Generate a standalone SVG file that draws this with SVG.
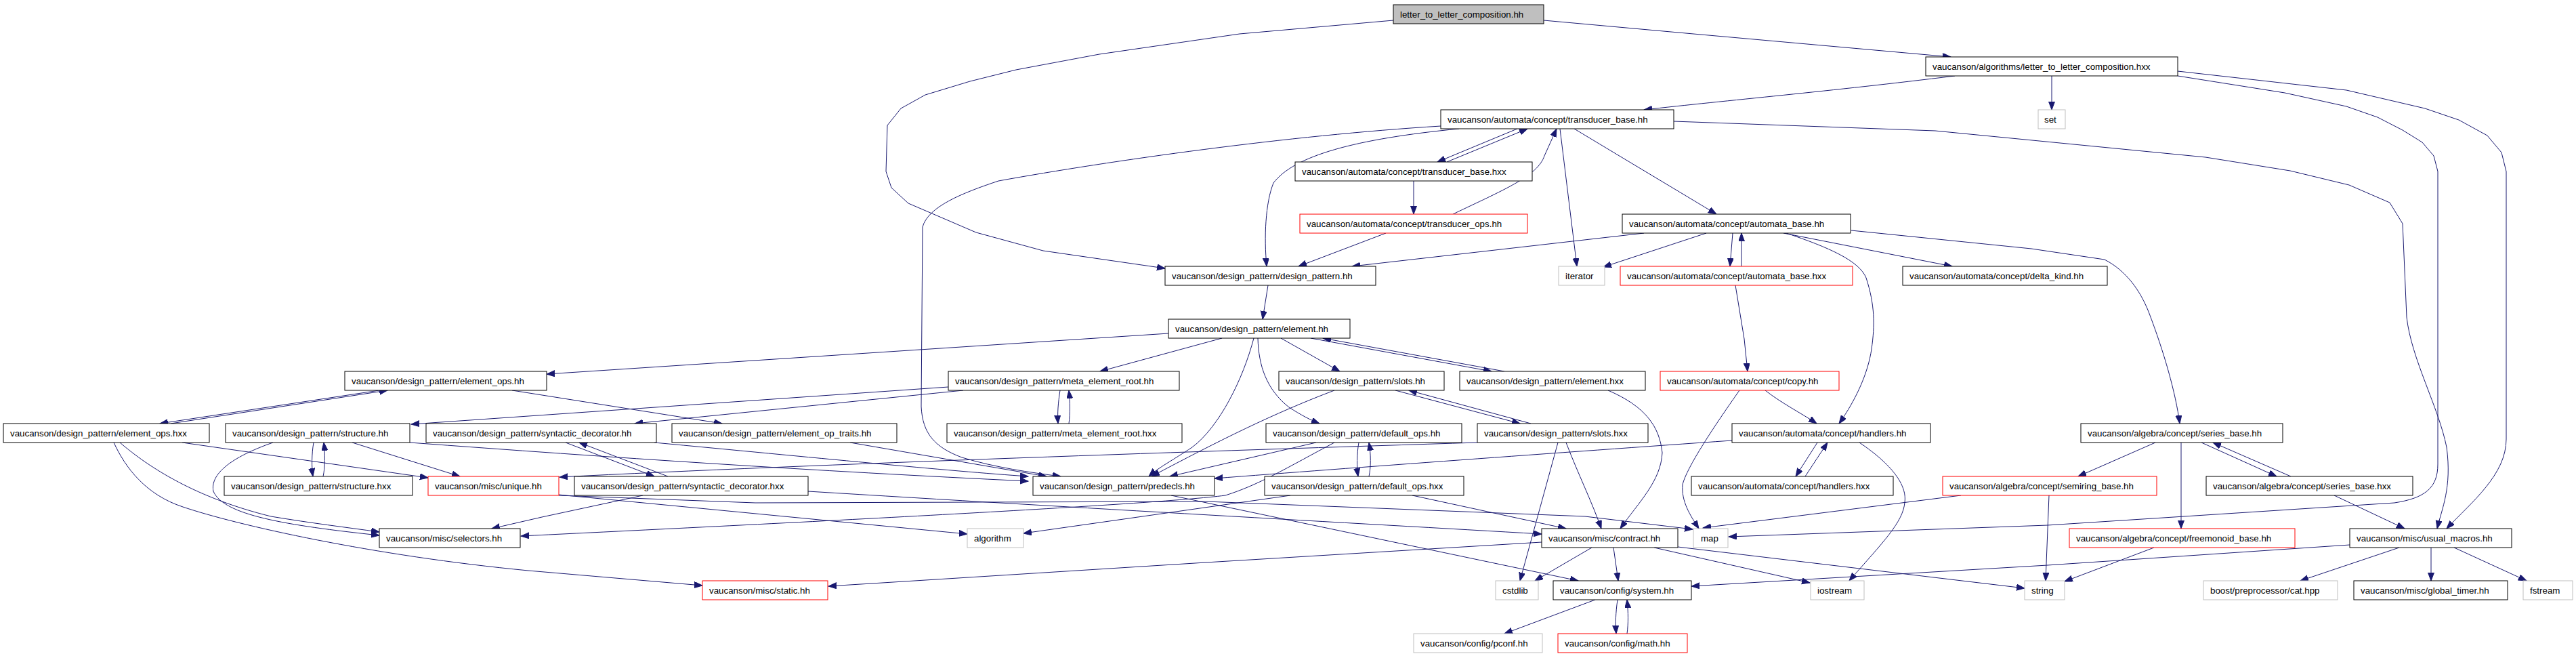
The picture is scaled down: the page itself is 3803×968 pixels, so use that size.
<svg xmlns="http://www.w3.org/2000/svg" width="3803" height="968" viewBox="0 0 3803 968">
<style>
.node rect{fill:#ffffff;stroke:#000000;stroke-width:1}
.node.red rect{stroke:#ff0000}
.node.sys rect{stroke:#bfbfbf}
.node.top rect{fill:#bfbfbf}
.node text{font-family:"Liberation Sans",Arial,Helvetica,sans-serif;font-size:13.33px;fill:#000000}
#edges path{fill:none;stroke:#191970;stroke-width:1;marker-end:url(#arr)}
</style>
<defs>
<marker id="arr" markerUnits="userSpaceOnUse" markerWidth="13" markerHeight="10" refX="12" refY="4.5" orient="auto">
<path d="M0,0 L12,4.5 L0,9 z" fill="#191970" stroke="#191970" stroke-width="1"/>
</marker>
</defs>
<rect x="0" y="0" width="3803" height="968" fill="#ffffff"/>
<g id="edges">
<path d="M2057,30 L1830,50 L1623,80 L1500,103 L1432,120 L1366,140 L1330,160 L1310,185 L1308,253 L1316,277 L1341,300 L1441,343 L1540,370 L1720,396"/>
<path d="M2279,30 L2500,50 L2880,84"/>
<path d="M2886,112 C2700,135 2550,148 2427,162"/>
<path d="M3029,112 L3029,162"/>
<path d="M3215,105 L3464,133 L3580,160 L3630,177 L3672,200 L3693,225 L3700,253 L3700,648 C3700,700 3650,740 3612,780"/>
<path d="M3215,112 L3373,137 L3464,157 L3510,173 L3547,192 L3576,210 L3593,230 L3599,253 L3599,685 C3599,720 3580,735 3535,742 L3023,775 L2552,792"/>
<path d="M2240,190 L2122,239"/>
<path d="M2136,239 L2255,190"/>
<path d="M2087,267 L2087,316"/>
<path d="M2145,316 C2220,280 2270,260 2280,230 L2298,190"/>
<path d="M2046,344 L1917,393"/>
<path d="M2154,190 C2000,205 1910,230 1880,270 C1868,300 1866,350 1870,393"/>
<path d="M2303,190 L2328,393"/>
<path d="M2324,190 L2534,316"/>
<path d="M2471,179 L2857,193 L3256,232 L3381,252 L3468,273 L3528,299 L3547,330 L3553,468 C3560,530 3600,600 3612,660 C3620,720 3605,750 3598,780"/>
<path d="M2127,186 C1900,200 1640,237 1474,267 C1420,285 1370,305 1362,335 L1360,600 C1362,640 1380,660 1420,675 C1470,690 1520,697 1566,703"/>
<path d="M2427,344 L1996,393"/>
<path d="M2519,344 L2367,394"/>
<path d="M2558,344 L2554,393"/>
<path d="M2571,393 L2571,344"/>
<path d="M2633,344 L2882,393"/>
<path d="M2637,344 C2700,365 2745,385 2755,410 C2768,450 2768,480 2763,515 C2758,550 2740,590 2715,625"/>
<path d="M2733,340 L2999,367 L3107,383 C3140,400 3160,430 3172,460 C3195,520 3212,580 3218,625"/>
<path d="M2562,421 L2575,500 L2580,548"/>
<path d="M2606,576 C2630,595 2660,610 2682,625"/>
<path d="M2568,576 C2530,630 2490,690 2484,715 C2482,740 2495,760 2508,780"/>
<path d="M2683,653 L2651,703"/>
<path d="M2665,703 L2698,653"/>
<path d="M2745,653 C2800,690 2815,720 2812,741 C2810,770 2780,800 2730,857"/>
<path d="M2557,650 C2300,668 2000,690 1793,706"/>
<path d="M3182,653 L3068,703"/>
<path d="M3220,653 L3220,780"/>
<path d="M3250,653 L3361,703"/>
<path d="M3382,703 L3267,653"/>
<path d="M3446,731 L3550,780"/>
<path d="M3025,731 L3020,857"/>
<path d="M2895,731 L2514,779"/>
<path d="M1872,421 L1864,471"/>
<path d="M1725,492 L807,552"/>
<path d="M1804,499 L1624,548"/>
<path d="M1851,499 C1835,560 1800,630 1760,660 C1730,680 1710,690 1696,703"/>
<path d="M1857,499 C1858,540 1870,575 1903,601 C1920,612 1935,620 1948,625"/>
<path d="M1891,499 L1978,548"/>
<path d="M1935,499 L2202,548"/>
<path d="M2221,548 L1953,499"/>
<path d="M2374,576 C2430,600 2450,630 2454,668 C2452,710 2420,740 2392,780"/>
<path d="M560,576 L236,625"/>
<path d="M252,625 L572,576"/>
<path d="M756,576 L1066,625"/>
<path d="M269,653 L632,705"/>
<path d="M177,653 C220,690 290,735 400,762 C460,772 510,778 560,785"/>
<path d="M168,653 C185,690 215,730 270,748 C350,775 550,820 780,842 L1037,864"/>
<path d="M463,653 C460,670 460,690 462,703"/>
<path d="M477,703 C480,690 480,670 478,653"/>
<path d="M520,653 L679,703"/>
<path d="M403,653 C340,675 310,700 315,725 C330,760 420,775 560,790"/>
<path d="M605,653 C900,675 1200,695 1518,710"/>
<path d="M1400,571 L607,626"/>
<path d="M1422,576 L937,625"/>
<path d="M1565,576 C1562,595 1561,610 1562,625"/>
<path d="M1578,625 C1580,610 1580,595 1578,576"/>
<path d="M835,653 L966,703"/>
<path d="M986,703 L855,653"/>
<path d="M966,653 C1200,675 1400,695 1518,703"/>
<path d="M1255,653 L1545,703"/>
<path d="M949,731 L800,763 L726,780"/>
<path d="M1193,725 C1600,750 2000,772 2276,788"/>
<path d="M2006,653 C2003,670 2003,690 2005,703"/>
<path d="M2021,703 C2024,690 2024,670 2021,653"/>
<path d="M1943,653 L1727,703"/>
<path d="M1970,653 C1900,690 1860,715 1809,731 C1700,745 1200,770 769,791"/>
<path d="M1970,576 C1880,610 1800,650 1700,703"/>
<path d="M2060,576 L2244,625"/>
<path d="M2260,625 L2080,576"/>
<path d="M2181,653 C1800,665 1200,685 826,704"/>
<path d="M2300,653 L2244,857"/>
<path d="M2312,653 C2330,700 2350,740 2364,780"/>
<path d="M825,730 L1428,788"/>
<path d="M825,731 L1115,742 L1780,740 L2340,762 L2499,781"/>
<path d="M1905,731 L1511,787"/>
<path d="M2085,731 L2312,780"/>
<path d="M1729,731 L2330,857"/>
<path d="M2276,800 L1780,830 L1223,865"/>
<path d="M2350,808 L2266,857"/>
<path d="M2382,808 L2389,857"/>
<path d="M2442,808 L2672,860"/>
<path d="M2477,807 L2989,868"/>
<path d="M2388,885 C2385,905 2385,920 2386,935"/>
<path d="M2402,935 C2404,920 2404,905 2402,885"/>
<path d="M2355,885 L2221,935"/>
<path d="M3469,804 L3023,834 L2497,865"/>
<path d="M3180,808 L3048,858"/>
<path d="M3542,808 L3396,857"/>
<path d="M3589,808 L3589,857"/>
<path d="M3623,808 L3730,857"/>
</g>
<g id="n0" class="node top"><rect x="2057" y="7" width="222" height="28"/><text x="2067" y="25.5">letter_to_letter_composition.hh</text></g>
<g id="n1" class="node"><rect x="2843" y="84" width="372" height="28"/><text x="2853" y="102.5">vaucanson/algorithms/letter_to_letter_composition.hxx</text></g>
<g id="n2" class="node"><rect x="2127" y="162" width="344" height="28"/><text x="2137" y="180.5">vaucanson/automata/concept/transducer_base.hh</text></g>
<g id="n3" class="node sys"><rect x="3009" y="162" width="40" height="28"/><text x="3018" y="180.5">set</text></g>
<g id="n4" class="node"><rect x="1912" y="239" width="350" height="28"/><text x="1922" y="257.5">vaucanson/automata/concept/transducer_base.hxx</text></g>
<g id="n5" class="node red"><rect x="1919" y="316" width="336" height="28"/><text x="1929" y="334.5">vaucanson/automata/concept/transducer_ops.hh</text></g>
<g id="n6" class="node"><rect x="2395" y="316" width="337" height="28"/><text x="2405" y="334.5">vaucanson/automata/concept/automata_base.hh</text></g>
<g id="n7" class="node"><rect x="1720" y="393" width="311" height="28"/><text x="1730" y="411.5">vaucanson/design_pattern/design_pattern.hh</text></g>
<g id="n8" class="node sys"><rect x="2301" y="393" width="68" height="28"/><text x="2311" y="411.5">iterator</text></g>
<g id="n9" class="node red"><rect x="2392" y="393" width="343" height="28"/><text x="2402" y="411.5">vaucanson/automata/concept/automata_base.hxx</text></g>
<g id="n10" class="node"><rect x="2809" y="393" width="302" height="28"/><text x="2819" y="411.5">vaucanson/automata/concept/delta_kind.hh</text></g>
<g id="n11" class="node"><rect x="1725" y="471" width="268" height="28"/><text x="1735" y="489.5">vaucanson/design_pattern/element.hh</text></g>
<g id="n12" class="node"><rect x="509" y="548" width="298" height="28"/><text x="519" y="566.5">vaucanson/design_pattern/element_ops.hh</text></g>
<g id="n13" class="node"><rect x="1400" y="548" width="341" height="28"/><text x="1410" y="566.5">vaucanson/design_pattern/meta_element_root.hh</text></g>
<g id="n14" class="node"><rect x="1888" y="548" width="244" height="28"/><text x="1898" y="566.5">vaucanson/design_pattern/slots.hh</text></g>
<g id="n15" class="node"><rect x="2155" y="548" width="274" height="28"/><text x="2165" y="566.5">vaucanson/design_pattern/element.hxx</text></g>
<g id="n16" class="node red"><rect x="2451" y="548" width="264" height="28"/><text x="2461" y="566.5">vaucanson/automata/concept/copy.hh</text></g>
<g id="n17" class="node"><rect x="5" y="625" width="304" height="28"/><text x="15" y="643.5">vaucanson/design_pattern/element_ops.hxx</text></g>
<g id="n18" class="node"><rect x="333" y="625" width="272" height="28"/><text x="343" y="643.5">vaucanson/design_pattern/structure.hh</text></g>
<g id="n19" class="node"><rect x="629" y="625" width="340" height="28"/><text x="639" y="643.5">vaucanson/design_pattern/syntactic_decorator.hh</text></g>
<g id="n20" class="node"><rect x="992" y="625" width="332" height="28"/><text x="1002" y="643.5">vaucanson/design_pattern/element_op_traits.hh</text></g>
<g id="n21" class="node"><rect x="1398" y="625" width="347" height="28"/><text x="1408" y="643.5">vaucanson/design_pattern/meta_element_root.hxx</text></g>
<g id="n22" class="node"><rect x="1869" y="625" width="289" height="28"/><text x="1879" y="643.5">vaucanson/design_pattern/default_ops.hh</text></g>
<g id="n23" class="node"><rect x="2181" y="625" width="252" height="28"/><text x="2191" y="643.5">vaucanson/design_pattern/slots.hxx</text></g>
<g id="n24" class="node"><rect x="2557" y="625" width="293" height="28"/><text x="2567" y="643.5">vaucanson/automata/concept/handlers.hh</text></g>
<g id="n25" class="node"><rect x="3072" y="625" width="298" height="28"/><text x="3082" y="643.5">vaucanson/algebra/concept/series_base.hh</text></g>
<g id="n26" class="node"><rect x="331" y="703" width="278" height="28"/><text x="341" y="721.5">vaucanson/design_pattern/structure.hxx</text></g>
<g id="n27" class="node red"><rect x="632" y="703" width="193" height="28"/><text x="642" y="721.5">vaucanson/misc/unique.hh</text></g>
<g id="n28" class="node"><rect x="848" y="703" width="345" height="28"/><text x="858" y="721.5">vaucanson/design_pattern/syntactic_decorator.hxx</text></g>
<g id="n29" class="node"><rect x="1525" y="703" width="268" height="28"/><text x="1535" y="721.5">vaucanson/design_pattern/predecls.hh</text></g>
<g id="n30" class="node"><rect x="1867" y="703" width="294" height="28"/><text x="1877" y="721.5">vaucanson/design_pattern/default_ops.hxx</text></g>
<g id="n31" class="node"><rect x="2497" y="703" width="298" height="28"/><text x="2507" y="721.5">vaucanson/automata/concept/handlers.hxx</text></g>
<g id="n32" class="node red"><rect x="2868" y="703" width="316" height="28"/><text x="2878" y="721.5">vaucanson/algebra/concept/semiring_base.hh</text></g>
<g id="n33" class="node"><rect x="3257" y="703" width="305" height="28"/><text x="3267" y="721.5">vaucanson/algebra/concept/series_base.hxx</text></g>
<g id="n34" class="node"><rect x="560" y="780" width="208" height="28"/><text x="570" y="798.5">vaucanson/misc/selectors.hh</text></g>
<g id="n35" class="node sys"><rect x="1428" y="780" width="83" height="28"/><text x="1438" y="798.5">algorithm</text></g>
<g id="n36" class="node"><rect x="2276" y="780" width="201" height="28"/><text x="2286" y="798.5">vaucanson/misc/contract.hh</text></g>
<g id="n37" class="node sys"><rect x="2500" y="780" width="51" height="28"/><text x="2511" y="798.5">map</text></g>
<g id="n38" class="node red"><rect x="3055" y="780" width="333" height="28"/><text x="3065" y="798.5">vaucanson/algebra/concept/freemonoid_base.hh</text></g>
<g id="n39" class="node"><rect x="3469" y="780" width="239" height="28"/><text x="3479" y="798.5">vaucanson/misc/usual_macros.hh</text></g>
<g id="n40" class="node red"><rect x="1037" y="857" width="185" height="28"/><text x="1047" y="875.5">vaucanson/misc/static.hh</text></g>
<g id="n41" class="node sys"><rect x="2208" y="857" width="63" height="28"/><text x="2218" y="875.5">cstdlib</text></g>
<g id="n42" class="node"><rect x="2293" y="857" width="204" height="28"/><text x="2303" y="875.5">vaucanson/config/system.hh</text></g>
<g id="n43" class="node sys"><rect x="2673" y="857" width="79" height="28"/><text x="2683" y="875.5">iostream</text></g>
<g id="n44" class="node sys"><rect x="2989" y="857" width="59" height="28"/><text x="2999" y="875.5">string</text></g>
<g id="n45" class="node sys"><rect x="3253" y="857" width="198" height="28"/><text x="3263" y="875.5">boost/preprocessor/cat.hpp</text></g>
<g id="n46" class="node"><rect x="3475" y="857" width="227" height="28"/><text x="3485" y="875.5">vaucanson/misc/global_timer.hh</text></g>
<g id="n47" class="node sys"><rect x="3725" y="857" width="73" height="28"/><text x="3735" y="875.5">fstream</text></g>
<g id="n48" class="node sys"><rect x="2087" y="935" width="190" height="28"/><text x="2097" y="953.5">vaucanson/config/pconf.hh</text></g>
<g id="n49" class="node red"><rect x="2300" y="935" width="191" height="28"/><text x="2310" y="953.5">vaucanson/config/math.hh</text></g>
</svg>
